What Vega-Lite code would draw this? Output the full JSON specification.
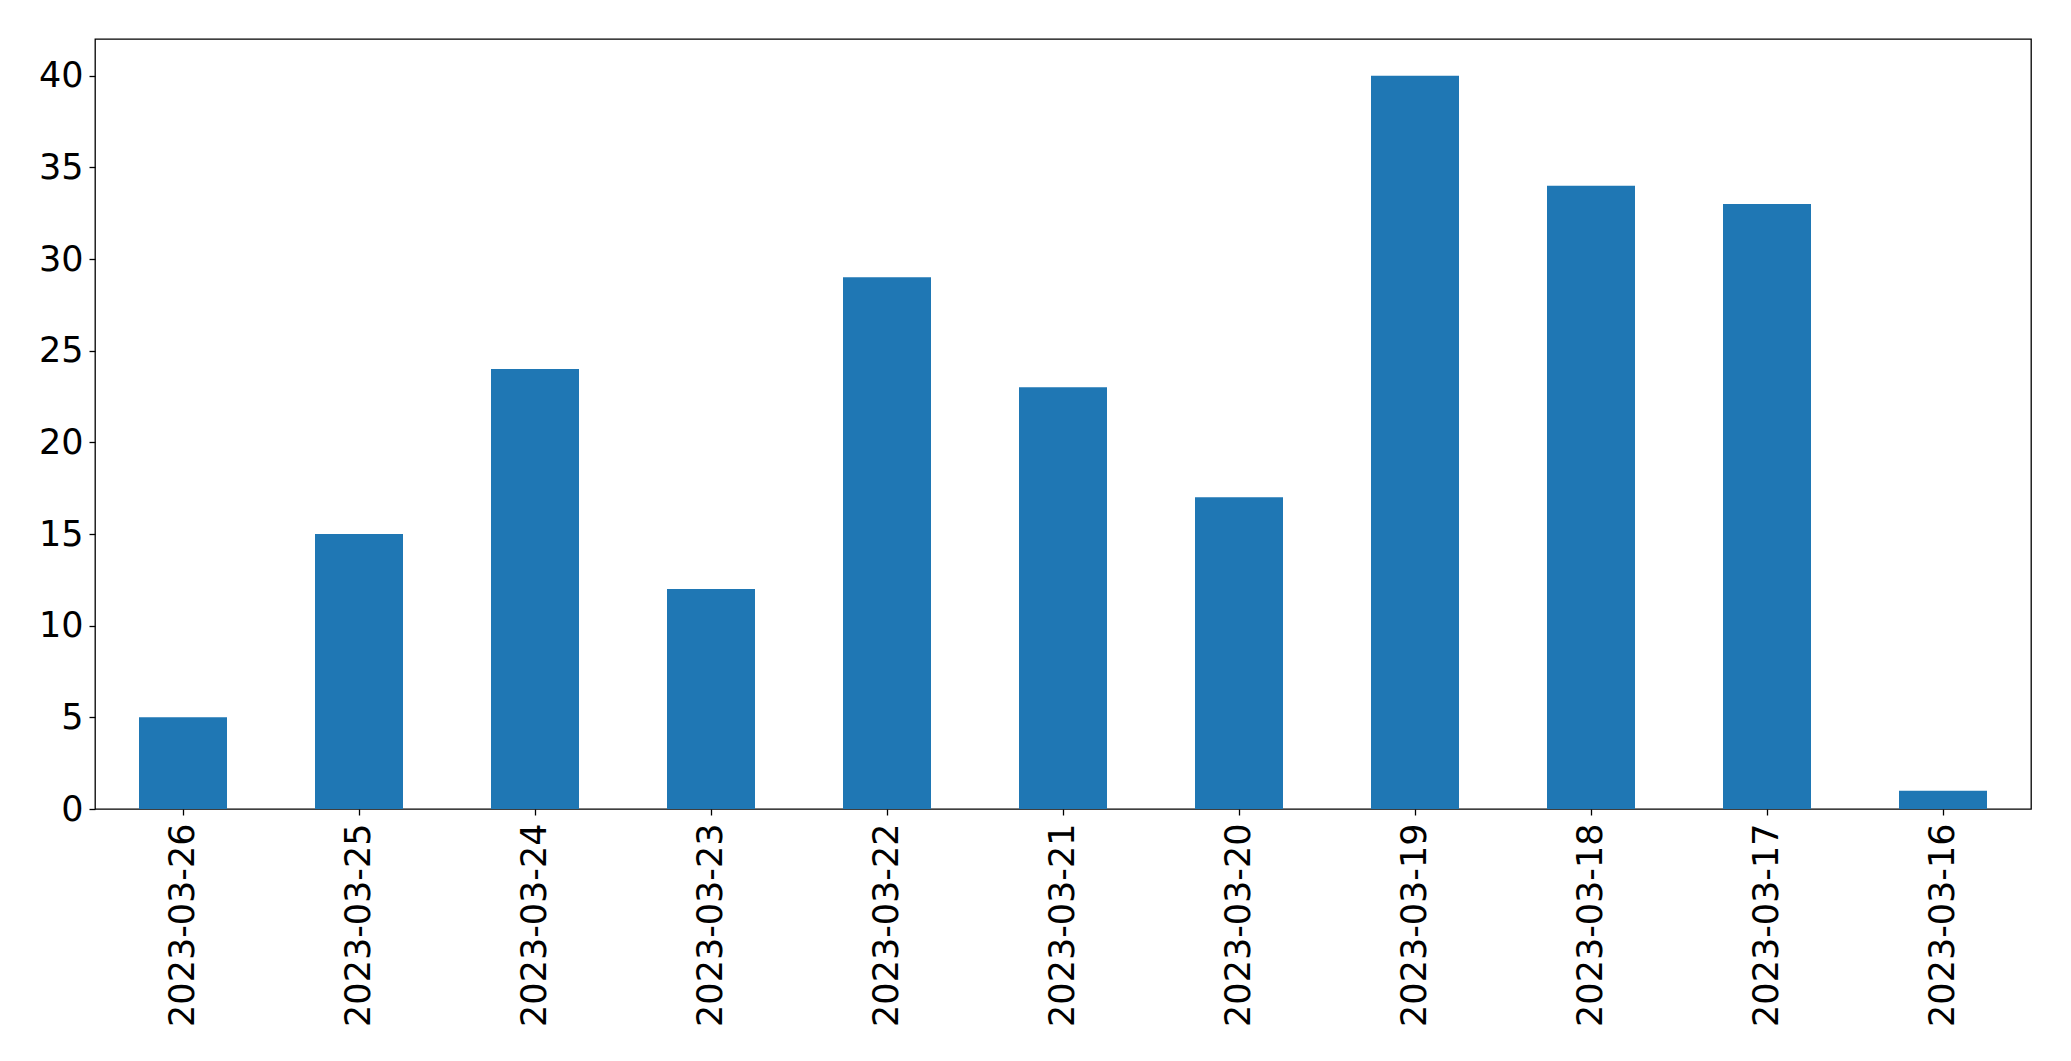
{
  "$schema": "https://vega.github.io/schema/vega-lite/v6.json",
  "width": 1936,
  "height": 770,
  "autosize": {"type": "none"},
  "padding": {"left": 95, "top": 39, "right": 40, "bottom": 252},
  "background": "white",
  "config": {
    "view": {"stroke": "black", "strokeWidth": 1.3},
    "font": "DejaVu Sans",
    "axis": {
      "labelFont": "DejaVu Sans",
      "labelFontSize": 35,
      "labelColor": "black",
      "labelLimit": 0,
      "tickColor": "black",
      "tickSize": 6,
      "tickWidth": 1.3,
      "domain": false,
      "grid": false,
      "title": null
    }
  },
  "data": {
    "values": [
      {"date": "2023-03-26", "count": 5},
      {"date": "2023-03-25", "count": 15},
      {"date": "2023-03-24", "count": 24},
      {"date": "2023-03-23", "count": 12},
      {"date": "2023-03-22", "count": 29},
      {"date": "2023-03-21", "count": 23},
      {"date": "2023-03-20", "count": 17},
      {"date": "2023-03-19", "count": 40},
      {"date": "2023-03-18", "count": 34},
      {"date": "2023-03-17", "count": 33},
      {"date": "2023-03-16", "count": 1}
    ]
  },
  "mark": {"type": "bar", "color": "#1f77b4"},
  "encoding": {
    "x": {
      "field": "date",
      "type": "nominal",
      "sort": null,
      "scale": {"paddingInner": 0.5, "paddingOuter": 0.25},
      "axis": {"labelAngle": 270, "labelPadding": 8}
    },
    "y": {
      "field": "count",
      "type": "quantitative",
      "scale": {"domain": [0, 42], "nice": false},
      "axis": {"values": [0, 5, 10, 15, 20, 25, 30, 35, 40], "labelPadding": 6}
    }
  }
}
